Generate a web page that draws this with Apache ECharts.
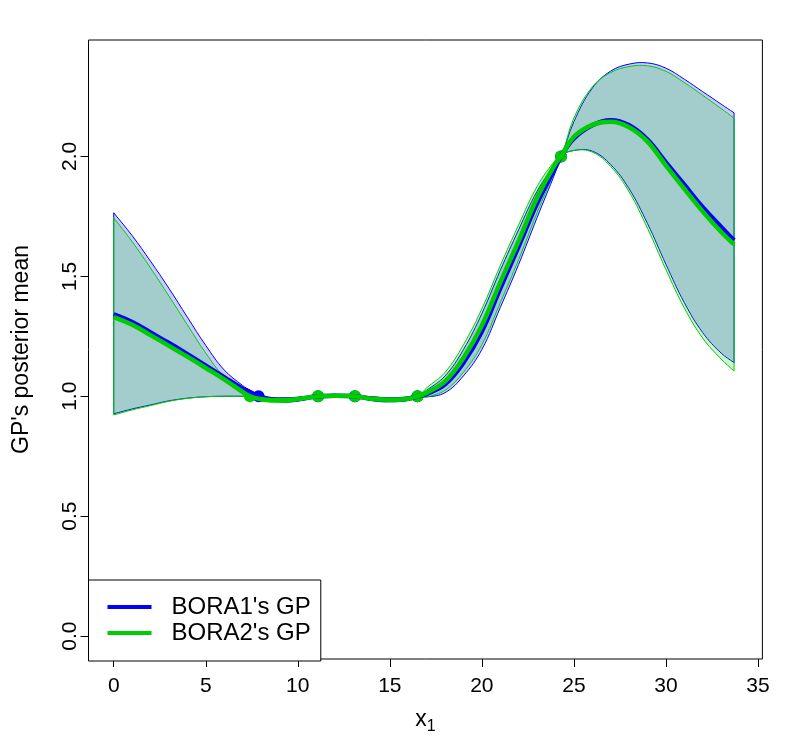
<!DOCTYPE html>
<html><head><meta charset="utf-8">
<script src="https://cdn.jsdelivr.net/npm/echarts@6/dist/echarts.min.js"></script>
<style>html,body{margin:0;padding:0;background:#fff}#c{width:800px;height:740px}</style>
</head><body><div id="c"></div>
<script>
const xs = [0,1,2,3,4,5,6,7,7.4,7.87,9,10,11.1,12,13.1,14,15,16,16.5,17,18,19,20,21,22,23,24,24.3,25,26,27,28,29,30,31,32,33,33.7];
const mean1 = [1.342,1.31,1.266,1.222,1.176,1.128,1.08,1.032,1.018,1.0,0.985,0.988,1.0,1.002,1.0,0.99,0.985,0.99,1.0,1.01,1.05,1.14,1.27,1.45,1.625,1.805,1.955,2.0,2.075,2.13,2.151,2.13,2.07,1.975,1.882,1.788,1.706,1.65];
const upper1 = [1.765,1.67,1.563,1.45,1.33,1.212,1.11,1.045,1.025,1.0,0.993,0.996,1.0,1.008,1.0,0.998,0.993,0.997,1.0,1.025,1.085,1.195,1.345,1.525,1.695,1.855,1.972,2.0,2.145,2.285,2.356,2.385,2.39,2.368,2.322,2.27,2.218,2.182];
const lower1 = [0.927,0.947,0.964,0.981,0.992,0.998,1.0,1.0,1.0,1.0,0.977,0.98,1.0,0.996,1.0,0.982,0.977,0.983,1.0,0.997,1.015,1.085,1.195,1.37,1.55,1.745,1.935,2.0,2.025,2.022,1.966,1.865,1.72,1.55,1.39,1.265,1.18,1.14];
const mean2 = [1.33,1.298,1.255,1.21,1.165,1.118,1.07,1.018,1.0,0.99,0.983,0.988,1.0,1.002,1.0,0.99,0.985,0.99,1.0,1.015,1.062,1.16,1.295,1.475,1.648,1.828,1.97,2.0,2.082,2.132,2.145,2.122,2.062,1.962,1.865,1.77,1.685,1.633];
const upper2 = [1.745,1.645,1.535,1.418,1.298,1.18,1.082,1.028,1.0,0.998,0.991,0.996,1.0,1.008,1.0,0.998,0.993,0.997,1.0,1.035,1.1,1.215,1.365,1.545,1.715,1.875,1.985,2.0,2.16,2.29,2.35,2.375,2.378,2.355,2.308,2.255,2.2,2.16];
const lower2 = [0.922,0.943,0.961,0.979,0.991,0.998,1.0,1.0,1.0,0.982,0.975,0.98,1.0,0.996,1.0,0.982,0.977,0.983,1.0,0.998,1.025,1.1,1.215,1.39,1.57,1.765,1.945,2.0,2.025,2.018,1.958,1.852,1.70,1.528,1.368,1.242,1.155,1.105];
const obs1X = [7.87,11.1,13.1,16.5,24.3];
const obs1Y = [1,1,1,1,2];
const obs2X = [7.4,11.1,13.1,16.5,24.3];
const obs2Y = [1,1,1,1,2];
const xTicks = [0,5,10,15,20,25,30,35];
const yTicks = [0,0.5,1,1.5,2];
const names = ["BORA1's GP", "BORA2's GP"];

const BLUE = '#0000FF', GREEN = '#00CD00';
const FONT = 'Liberation Sans, Arial, sans-serif';
const SM = 0.4;

function pairs(x, y) { return x.map((v, i) => [v, y[i]]); }

// ECharts-like smoothing of pixel points into cubic bezier path commands
function smoothCmds(P, s) {
  const n = P.length;
  const cpN = [], cpP = [];
  for (let i = 0; i < n; i++) {
    const prev = P[Math.max(i - 1, 0)], cur = P[i], next = P[Math.min(i + 1, n - 1)];
    const vx = next[0] - prev[0], vy = next[1] - prev[1];
    const d0 = Math.hypot(cur[0] - prev[0], cur[1] - prev[1]);
    const d1 = Math.hypot(next[0] - cur[0], next[1] - cur[1]);
    const sum = d0 + d1;
    const r = sum > 0 ? d1 / sum : 0.5;
    cpN.push([cur[0] + vx * s * r, cur[1] + vy * s * r]);
    cpP.push([cur[0] - vx * s * (1 - r), cur[1] - vy * s * (1 - r)]);
  }
  let d = '';
  for (let i = 0; i < n - 1; i++) {
    const a = cpN[i], b = cpP[i + 1], e = P[i + 1];
    d += ' C' + a[0] + ',' + a[1] + ' ' + b[0] + ',' + b[1] + ' ' + e[0] + ',' + e[1];
  }
  return d;
}

function bandSeries(lower, upper, color, fill) {
  return {
    type: 'custom', silent: true, data: [[xs[0], lower[0]]],
    renderItem: function (params, api) {
      const U = xs.map((x, i) => api.coord([x, upper[i]]));
      const L = xs.map((x, i) => api.coord([x, lower[i]])).reverse();
      const d = 'M' + U[0][0] + ',' + U[0][1] + smoothCmds(U, SM) +
        ' L' + L[0][0] + ',' + L[0][1] + smoothCmds(L, SM) + ' Z';
      return { type: 'path', shape: { pathData: d }, style: { fill: fill, stroke: color, lineWidth: 1 } };
    }
  };
}

const series = [
  bandSeries(lower1, upper1, BLUE, 'rgba(0,0,255,0.2)'),
  { type: 'line', name: names[0], data: pairs(xs, mean1), smooth: SM, symbol: 'none', lineStyle: { color: BLUE, width: 4.5 }, itemStyle: { color: BLUE } },
  { type: 'scatter', name: 'p1', data: pairs(obs1X, obs1Y), symbolSize: 12, itemStyle: { color: BLUE, opacity: 1 } },
  bandSeries(lower2, upper2, GREEN, 'rgba(0,205,0,0.2)'),
  { type: 'line', name: names[1], data: pairs(xs, mean2), smooth: SM, symbol: 'none', lineStyle: { color: GREEN, width: 4.5 }, itemStyle: { color: GREEN } },
  { type: 'scatter', name: 'p2', data: pairs(obs2X, obs2Y), symbolSize: 12, itemStyle: { color: GREEN, opacity: 1 } }
];

const chart = echarts.init(document.getElementById('c'), null, { renderer: 'canvas' });
chart.setOption({
  animation: false,
  backgroundColor: '#fff',
  textStyle: { fontFamily: FONT },
  grid: { left: 88.5, right: 37.6, top: 40, bottom: 79, show: true, borderColor: '#000', borderWidth: 1, backgroundColor: 'transparent' },
  xAxis: {
    type: 'value', min: -1.37, max: 35.24,
    axisLine: { show: false, onZero: false }, splitLine: { show: false },
    axisTick: { show: true, inside: false, length: 8, lineStyle: { color: '#000' }, customValues: xTicks },
    axisLabel: { customValues: xTicks, color: '#000', fontSize: 21, fontFamily: FONT, margin: 17 },
    name: '{x|x}{s|1}', nameLocation: 'middle', nameGap: 46,
    nameTextStyle: { color: '#000', fontFamily: FONT, rich: {
      x: { fontSize: 23, lineHeight: 30, verticalAlign: 'middle', fontFamily: FONT, color: '#000' },
      s: { fontSize: 16, lineHeight: 14, verticalAlign: 'bottom', fontFamily: FONT, color: '#000' } } }
  },
  yAxis: {
    type: 'value', min: -0.0956, max: 2.4856,
    axisLine: { show: false, onZero: false }, splitLine: { show: false },
    axisTick: { show: true, inside: false, length: 8, lineStyle: { color: '#000' }, customValues: yTicks },
    axisLabel: { customValues: yTicks, rotate: 90, color: '#000', fontSize: 21, fontFamily: FONT, margin: 8, formatter: v => v.toFixed(1) },
    name: "GP's posterior mean", nameLocation: 'middle', nameGap: 55,
    nameTextStyle: { color: '#000', fontSize: 23, fontFamily: FONT }
  },
  legend: {
    data: names, orient: 'vertical', left: 88.5, bottom: 79,
    icon: 'rect', itemWidth: 44, itemHeight: 4,
    padding: [15, 10, 16, 19], itemGap: 2,
    borderColor: '#000', borderWidth: 1, borderRadius: 0, backgroundColor: '#fff',
    textStyle: { color: '#000', fontSize: 24, fontFamily: FONT, padding: [0, 0, 0, 15] },
    selectedMode: false
  },
  series: series
});
</script></body></html>
